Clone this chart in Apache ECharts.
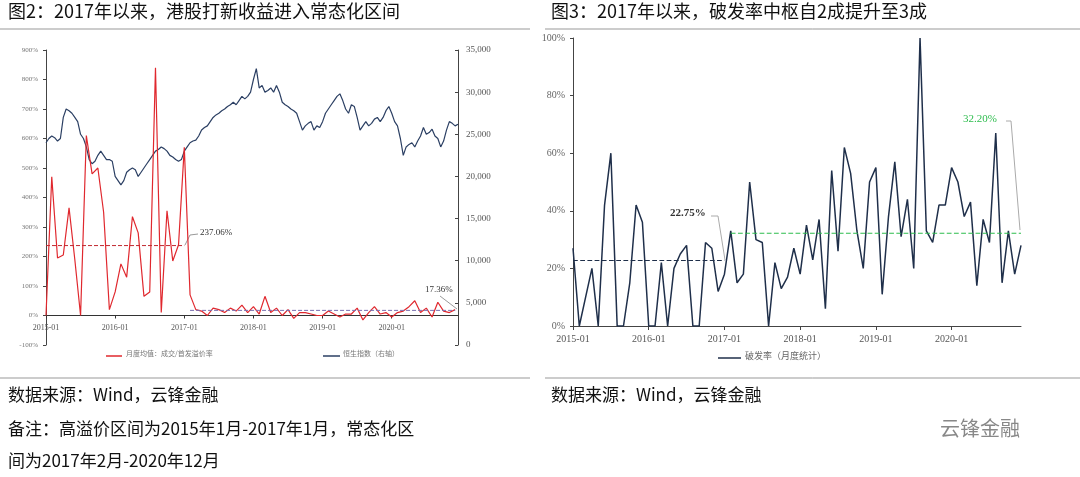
<!DOCTYPE html>
<html>
<head>
<meta charset="utf-8">
<script src="https://cdn.jsdelivr.net/npm/echarts@6/dist/echarts.min.js"></script>
<style>html,body{margin:0;background:#fff}#c{width:1080px;height:477px}</style>
</head>
<body>
<div id="c"></div>
<script>
// monthly premium rate, 2015-01 .. 2020-12 (%)
const premium = [
  0, 470, 195, 205, 365, 190, 0, 610, 480, 500, 350, 20,
  80, 175, 130, 335, 280, 65, 80, 840, 10, 355, 185, 240,
  570, 70, 20, 15, 0, 25, 20, 10, 25, 15, 35, 10,
  30, 5, 65, 10, 25, 0, 20, -10, 10, 10, 5, 0,
  0, 15, 5, -5, 5, 5, 25, -15, 10, 30, 5, 10,
  -5, 10, 15, 30, 50, 10, 25, -5, 45, 15, 10, 20
]
// Hang Seng index, twice a month
const hsi = [
  24000, 24500, 24800, 24600, 24200, 24500, 27000, 28000, 27800, 27500, 27000, 26500, 25000, 24500, 23500, 22000, 21500, 21800, 22500, 23000, 22500, 22000, 22000, 21800,
  20000, 19500, 19000, 19500, 20500, 20800, 21000, 20800, 20000, 20500, 21000, 21500, 22000, 22500, 23000, 23200, 23500, 23300, 23000, 22500, 22300, 22000, 21800, 22000,
  23000, 23500, 24000, 24200, 24300, 24800, 25500, 25800, 26000, 26500, 27000, 27300, 27500, 27800, 28000, 28300, 28500, 28800, 28500, 29000, 29500, 29200, 29500, 30000,
  31500, 32800, 30500, 30800, 30000, 30200, 30500, 30000, 30800, 30000, 28800, 28500, 28300, 28000, 27800, 27500, 26500, 25500, 26000, 26300, 26500, 25500, 26000, 25800,
  26500, 27500, 28000, 28500, 29000, 29500, 29800, 29000, 28000, 27500, 28500, 28300, 27000, 25500, 26000, 26500, 26000, 26300, 26800, 27000, 26500, 27000, 27800, 28300,
  27500, 26500, 26000, 24500, 22500, 23500, 23800, 24000, 23500, 24200, 24800, 25800, 25000, 25200, 25600, 24800, 24500, 23500, 24200, 25500, 26500, 26300, 26000, 26200
]
// monthly break rate (%)
const breakRate = [
  27, 0, 10, 20, 0, 42, 60, 0, 0, 15, 42, 36,
  0, 0, 22, 0, 20, 25, 28, 0, 0, 29, 27, 12,
  18, 33, 15, 18, 50, 30, 29, 0, 22, 13, 17, 27,
  18, 35, 23, 37, 6, 54, 26, 62, 53, 33, 20, 50,
  55, 11, 38, 57, 31, 44, 20, 100, 33, 29, 42, 42,
  55, 50, 38, 43, 14, 37, 29, 67, 15, 33, 18, 28
]
const premiumMean = [237.06, 17.36]
const breakMean = [22.75, 32.2]

const serif = 'Liberation Serif'
const yearLabel = v => (2015 + v / 12) + '-01'

const chart = echarts.init(document.getElementById('c'))
chart.setOption({
  animation: false,
  grid: [
    { left: 46, top: 50, width: 412, height: 295 },
    { left: 573, top: 38, width: 448, height: 288 }
  ],
  xAxis: [
    {
      gridIndex: 0, type: 'value', min: 0, max: 71.5, interval: 12, offset: -29.5,
      axisLine: { onZero: false, lineStyle: { color: '#333' } },
      axisTick: { length: 3, lineStyle: { color: '#333' } },
      axisLabel: { formatter: yearLabel, color: '#555', fontSize: 8, fontFamily: serif, showMaxLabel: false },
      splitLine: { show: false }
    },
    {
      gridIndex: 1, type: 'value', min: 0, max: 71, interval: 12,
      axisLine: { lineStyle: { color: '#444' } },
      axisTick: { length: 4, lineStyle: { color: '#444' } },
      axisLabel: { formatter: yearLabel, color: '#555', fontSize: 10, fontFamily: serif, showMaxLabel: false },
      splitLine: { show: false }
    }
  ],
  yAxis: [
    {
      gridIndex: 0, min: -100, max: 900, interval: 100,
      axisLine: { show: true, lineStyle: { color: '#444' } },
      axisTick: { show: true, length: 3 },
      axisLabel: { formatter: '{value}%', color: '#777', fontSize: 7, fontFamily: serif },
      splitLine: { show: false }
    },
    {
      gridIndex: 0, min: 0, max: 35000, interval: 5000, position: 'right',
      axisLine: { show: true, onZero: false, lineStyle: { color: '#444' } },
      axisTick: { show: true, length: 3, inside: true },
      axisLabel: { formatter: v => v.toLocaleString('en-US'), color: '#555', fontSize: 9, fontFamily: serif },
      splitLine: { show: false }
    },
    {
      gridIndex: 1, min: 0, max: 100, interval: 20,
      axisLine: { show: true, lineStyle: { color: '#444' } },
      axisTick: { show: true, length: 3 },
      axisLabel: { formatter: '{value}%', color: '#666', fontSize: 10, fontFamily: serif },
      splitLine: { show: false }
    }
  ],
  series: [
    {
      type: 'line', xAxisIndex: 0, yAxisIndex: 1, symbol: 'none',
      data: hsi.map((v, i) => [i / 2, v]),
      lineStyle: { color: '#2b3f63', width: 1.2 }
    },
    {
      type: 'line', xAxisIndex: 0, yAxisIndex: 0, symbol: 'none',
      data: premium.map((v, i) => [i, v]),
      lineStyle: { color: '#e0282e', width: 1.2 }
    },
    {
      type: 'line', xAxisIndex: 0, yAxisIndex: 0, symbol: 'none',
      data: [[0, premiumMean[0]], [24, premiumMean[0]]],
      lineStyle: { color: '#c0282e', width: 1, type: 'dashed' }
    },
    {
      type: 'line', xAxisIndex: 0, yAxisIndex: 0, symbol: 'none',
      data: [[25, premiumMean[1]], [71, premiumMean[1]]],
      lineStyle: { color: '#7a6fb0', width: 1, type: 'dashed' }
    },
    {
      type: 'line', xAxisIndex: 1, yAxisIndex: 2, symbol: 'none',
      data: breakRate.map((v, i) => [i, v]),
      lineStyle: { color: '#1f2f4a', width: 1.5 }
    },
    {
      type: 'line', xAxisIndex: 1, yAxisIndex: 2, symbol: 'none',
      data: [[0, breakMean[0]], [24, breakMean[0]]],
      lineStyle: { color: '#1f2f4a', width: 1.2, type: 'dashed' }
    },
    {
      type: 'line', xAxisIndex: 1, yAxisIndex: 2, symbol: 'none',
      data: [[25, breakMean[1]], [71, breakMean[1]]],
      lineStyle: { color: '#2ebd4e', width: 1.2, type: 'dashed' }
    }
  ],
  graphic: [
    { type: 'text', left: 8, top: 2, style: { text: '图2：2017年以来，港股打新收益进入常态化区间', font: '18px "Noto Sans CJK SC"', fill: '#111' } },
    { type: 'text', left: 551, top: 2, style: { text: '图3：2017年以来，破发率中枢自2成提升至3成', font: '18px "Noto Sans CJK SC"', fill: '#111' } },
    { type: 'line', shape: { x1: 0, y1: 29, x2: 530, y2: 29 }, style: { stroke: '#999', lineWidth: 1 } },
    { type: 'line', shape: { x1: 545, y1: 29, x2: 1080, y2: 29 }, style: { stroke: '#999', lineWidth: 1 } },
    { type: 'line', shape: { x1: 0, y1: 378, x2: 530, y2: 378 }, style: { stroke: '#999', lineWidth: 1 } },
    { type: 'line', shape: { x1: 545, y1: 378, x2: 1080, y2: 378 }, style: { stroke: '#999', lineWidth: 1 } },
    // annotations
    { type: 'text', left: 200, top: 228, style: { text: '237.06%', font: '9px "Liberation Serif"', fill: '#333' } },
    { type: 'polyline', shape: { points: [[185, 245], [190, 235], [198, 234]] }, style: { stroke: '#999', fill: null } },
    { type: 'text', left: 425, top: 285, style: { text: '17.36%', font: '9px "Liberation Serif"', fill: '#333' } },
    { type: 'polyline', shape: { points: [[440, 296], [457, 309]] }, style: { stroke: '#999', fill: null } },
    { type: 'text', left: 670, top: 208, style: { text: '22.75%', font: 'bold 11px "Liberation Serif"', fill: '#333' } },
    { type: 'polyline', shape: { points: [[711, 216], [718, 216], [725, 260]] }, style: { stroke: '#aaa', fill: null } },
    { type: 'text', left: 963, top: 114, style: { text: '32.20%', font: '11px "Liberation Serif"', fill: '#2ebd4e' } },
    { type: 'polyline', shape: { points: [[1006, 121], [1011, 121], [1020, 230]] }, style: { stroke: '#aaa', fill: null } },
    // legends
    { type: 'line', shape: { x1: 106, y1: 356, x2: 122, y2: 356 }, style: { stroke: '#e0282e', lineWidth: 1.5 } },
    { type: 'text', left: 126, top: 350, style: { text: '月度均值：成交/首发溢价率', font: '7px "Noto Sans CJK SC"', fill: '#777' } },
    { type: 'line', shape: { x1: 323, y1: 356, x2: 340, y2: 356 }, style: { stroke: '#2b3f63', lineWidth: 1.5 } },
    { type: 'text', left: 343, top: 350, style: { text: '恒生指数（右轴）', font: '7px "Noto Sans CJK SC"', fill: '#777' } },
    { type: 'line', shape: { x1: 718, y1: 358, x2: 741, y2: 358 }, style: { stroke: '#1f2f4a', lineWidth: 1.5 } },
    { type: 'text', left: 745, top: 351, style: { text: '破发率（月度统计）', font: '9px "Noto Sans CJK SC"', fill: '#666' } },
    // footers
    { type: 'text', left: 8, top: 386, style: { text: '数据来源：Wind，云锋金融', font: '17px "Noto Sans CJK SC"', fill: '#111' } },
    { type: 'text', left: 551, top: 386, style: { text: '数据来源：Wind，云锋金融', font: '17px "Noto Sans CJK SC"', fill: '#111' } },
    { type: 'text', left: 8, top: 420, style: { text: '备注：高溢价区间为2015年1月-2017年1月，常态化区', font: '17px "Noto Sans CJK SC"', fill: '#111' } },
    { type: 'text', left: 8, top: 452, style: { text: '间为2017年2月-2020年12月', font: '17px "Noto Sans CJK SC"', fill: '#111' } },
    { type: 'text', left: 940, top: 418, style: { text: '云锋金融', font: '20px "Noto Sans CJK SC"', fill: '#888' } }
  ]
})
</script>
</body>
</html>
